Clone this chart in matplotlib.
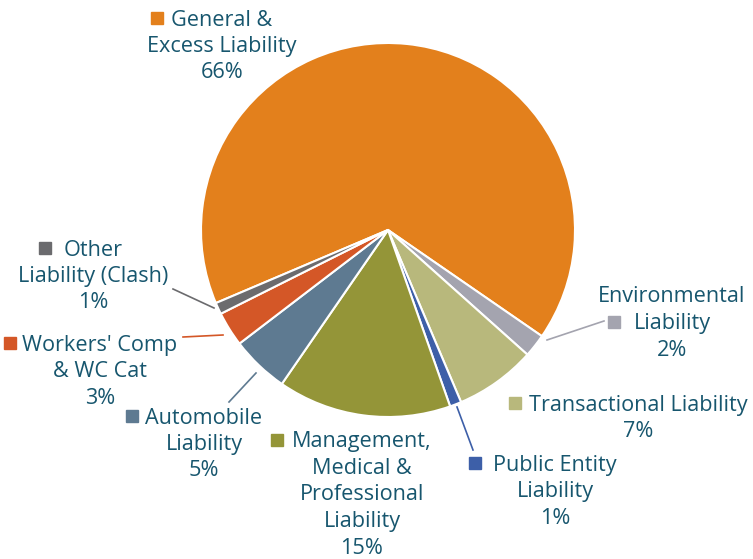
import matplotlib.pyplot as plt

# slice data (clockwise from the top-left)
categories = ["General & Excess Liability", "Environmental Liability", "Transactional Liability",
              "Public Entity Liability", "Management, Medical & Professional Liability",
              "Automobile Liability", "Workers' Comp & WC Cat", "Other Liability (Clash)"]
shares = [66, 2, 7, 1, 15, 5, 3, 1]
colors = ["#E3801C", "#A4A4AF", "#B8B87C", "#3D5FA8", "#949538", "#5E7A91", "#D45727", "#6B6B6E"]

# label text broken into lines as in the original
label_lines = [["General &", "Excess Liability"],
               ["Environmental", "Liability"],
               ["Transactional Liability"],
               ["Public Entity", "Liability"],
               ["Management,", "Medical &", "Professional", "Liability"],
               ["Automobile", "Liability"],
               ["Workers' Comp", "& WC Cat"],
               ["Other", "Liability (Clash)"]]

W, H = 753, 559
TEXT = "#17566E"

fig = plt.figure(figsize=(W / 100, H / 100), dpi=100)
ax = fig.add_axes([0, 0, 1, 1])

def py(y):
    return H - y

ax.pie(shares, colors=colors, startangle=203, counterclock=False,
       center=(388, py(230)), radius=187,
       wedgeprops=dict(edgecolor="white", linewidth=1.5))

# label layout: (center x, first line y, square x, square line index)
layout = [(222, 18, 157, 0),
          (672, 295, 614, 1),
          (638, 403, 515, 0),
          (555, 463, 475, 0),
          (362, 440, 277, 0),
          (204, 416, 132, 0),
          (100, 343, 10, 0),
          (93, 248, 45, 0)]
leaders = [None,
           ((547, 340), (604, 321)),
           None,
           ((457, 407), (473, 450)),
           None,
           ((256, 373), (229, 402)),
           ((223, 335), (183, 337)),
           ((214, 308), (173, 289))]

LS = 26.5
for cat, lines, share, col, (cx, y0, sx, si), lead in zip(categories, label_lines, shares,
                                                        colors, layout, leaders):
    rows = lines + [f"{share}%"]
    for i, t in enumerate(rows):
        ax.text(cx, py(y0 + i * LS + 7.5), t, ha="center", va="baseline",
                fontsize=15.6, color=TEXT, family="Open Sans")
    ax.plot([sx], [py(y0 + si * LS)], marker="s", markersize=8, color=col, linestyle="none")
    if lead:
        (x1, y1), (x2, y2) = lead
        ax.plot([x1, x2], [py(y1), py(y2)], color=col, linewidth=1.2)

ax.set_xlim(0, W)
ax.set_ylim(0, H)
ax.set_aspect("equal")
ax.axis("off")

fig.savefig("out.png", dpi=100)
